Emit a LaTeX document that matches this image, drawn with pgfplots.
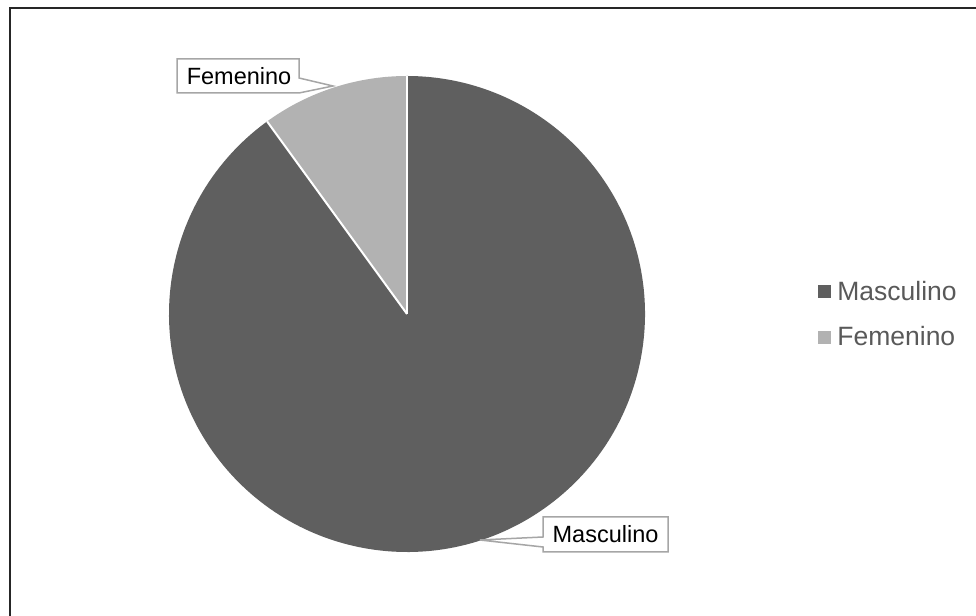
\documentclass[border=0pt]{standalone}
\usepackage{pgfplots}
\usepackage{pgfplotstable}
\pgfplotsset{compat=1.18}
\usepackage{fontspec}
\setmainfont{Liberation Sans}
\definecolor{mascol}{HTML}{5F5F5F}
\definecolor{femcol}{HTML}{B2B2B2}
\definecolor{legtext}{HTML}{595959}
\definecolor{callbord}{HTML}{A6A6A6}
\definecolor{framecol}{HTML}{262626}

\pgfplotstableread{
label value
Masculino 90
Femenino 10
}\piedata

\begin{document}
\begin{tikzpicture}
\pgfplotstablegetelem{0}{value}\of\piedata \let\vM\pgfplotsretval
\pgfplotstablegetelem{1}{value}\of\piedata \let\vF\pgfplotsretval
\pgfmathsetmacro{\total}{\vM+\vF}
\pgfmathsetmacro{\aF}{90+360*\vF/\total}
\begin{axis}[
  scale only axis, width=976bp, height=616bp,
  xmin=0, xmax=976, ymin=0, ymax=616,
  hide axis, clip=false,
  legend style={at={(axis cs:818,302)}, anchor=west, draw=none, fill=none,
    font=\fontsize{26.5bp}{30bp}\selectfont, text=legtext, inner sep=0pt,
    row sep=21bp},
  legend cell align=left,
]
% frame
\draw[framecol, line width=2bp] (axis cs:9.5,0) -- (axis cs:9.5,607.5) -- (axis cs:976,607.5);
% slices
\fill[mascol] (axis cs:407,302) -- ++(\aF:238bp) arc[start angle=\aF, end angle=450, radius=238bp] -- cycle;
\fill[femcol] (axis cs:407,302) -- ++(90:238bp) arc[start angle=90, end angle=\aF, radius=238bp] -- cycle;
\draw[white, line width=2bp] (axis cs:407,302) -- ++(90:238bp);
\draw[white, line width=2bp] (axis cs:407,302) -- ++(\aF:238bp);
% callouts
\filldraw[fill=white, draw=callbord, line width=1.5bp]
  (axis cs:177,557) -- (axis cs:299,557) -- (axis cs:299,538) -- (axis cs:333,530)
  -- (axis cs:299,523) -- (axis cs:177,523) -- cycle;
\node[font=\fontsize{23.5bp}{28bp}\selectfont, text=black] at (axis cs:239,540) {Femenino};
\filldraw[fill=white, draw=callbord, line width=1.5bp]
  (axis cs:543,99) -- (axis cs:668,99) -- (axis cs:668,64) -- (axis cs:543,64)
  -- (axis cs:543,69) -- (axis cs:480,76) -- (axis cs:543,79) -- cycle;
\node[font=\fontsize{23.5bp}{28bp}\selectfont, text=black] at (axis cs:605.5,81.5) {Masculino};
% legend
\addlegendimage{legend image code/.code={\fill[mascol] (0bp,-6bp) rectangle (12bp,6bp); \path[draw=none,fill=none] (0bp,0bp) rectangle (17bp,0.1bp);}}
\addlegendentry{Masculino}
\addlegendimage{legend image code/.code={\fill[femcol] (0bp,-6bp) rectangle (12bp,6bp); \path[draw=none,fill=none] (0bp,0bp) rectangle (17bp,0.1bp);}}
\addlegendentry{Femenino}
\end{axis}
\pgfresetboundingbox
\path[use as bounding box] (current axis.south west) rectangle (current axis.north east);
\end{tikzpicture}
\end{document}
